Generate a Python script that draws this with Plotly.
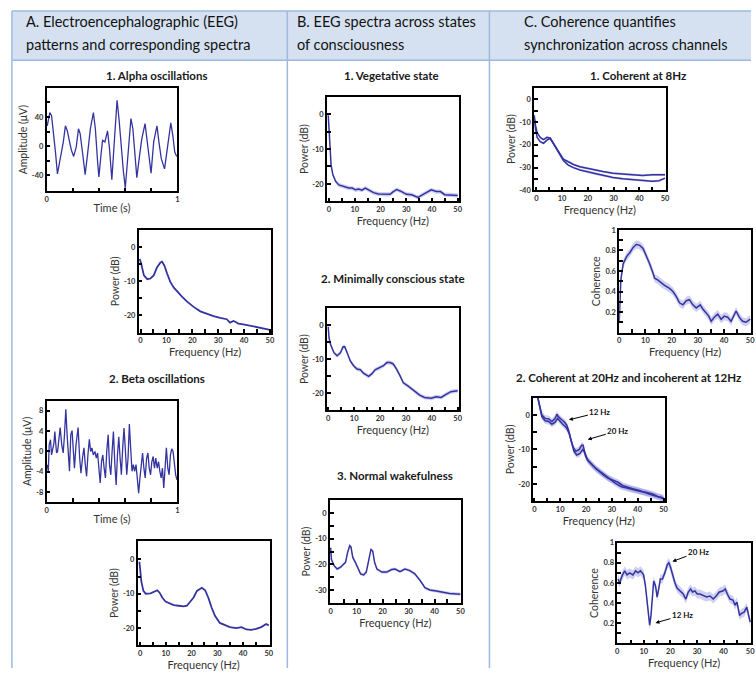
import plotly.graph_objects as go

W, H = 756, 673
LINE = "rgb(52,52,160)"
BAND = "rgba(110,110,210,0.33)"
BORDER = "#9db9e0"
HEADER_BG = "#d5e1f0"
FONT = "Lato, 'Open Sans', sans-serif"

# ---------------- data ----------------
alpha_t = [0.005, 0.025, 0.038, 0.05, 0.068, 0.083, 0.10, 0.113, 0.128, 0.144, 0.159, 0.171, 0.189, 0.207,
           0.227, 0.244, 0.257, 0.277, 0.295, 0.315, 0.335, 0.358, 0.373, 0.39, 0.40, 0.416, 0.428, 0.446,
           0.466, 0.481, 0.499, 0.516, 0.529, 0.539, 0.554, 0.572, 0.587, 0.602, 0.617, 0.632, 0.645, 0.66,
           0.675, 0.69, 0.708, 0.728, 0.753, 0.768, 0.783, 0.799, 0.819, 0.844, 0.859, 0.877, 0.902, 0.919,
           0.932, 0.95, 0.965, 0.98, 0.995]
alpha_uv = [28, 46, 42, 24, -8, -38, -21, -5, 6, 28, 21, 10, -5, -14,
            -1, 24, 17, -12, -39, -8, 24, 46, 24, -21, -42, -12, 8, 6,
            21, -3, -46, 1, 42, 63, 37, -3, -34, -57, -21, 15, 38, 24,
            -12, -43, -17, 10, 31, 10, -17, -37, 6, 28, 6, -17, -31, -8,
            15, 32, 15, -8, -14]

beta_t = [0.005, 0.013, 0.02, 0.03, 0.038, 0.046, 0.056, 0.063, 0.076, 0.084, 0.094, 0.104, 0.116, 0.127,
          0.137, 0.147, 0.157, 0.167, 0.175, 0.185, 0.195, 0.205, 0.213, 0.225, 0.241, 0.253, 0.263, 0.276,
          0.286, 0.296, 0.306, 0.316, 0.327, 0.337, 0.347, 0.357, 0.37, 0.38, 0.39, 0.40, 0.41, 0.42, 0.43,
          0.44, 0.45, 0.46, 0.471, 0.481, 0.491, 0.501, 0.511, 0.522, 0.532, 0.542, 0.552, 0.562, 0.572,
          0.582, 0.592, 0.603, 0.613, 0.623, 0.633, 0.643, 0.653, 0.663, 0.673, 0.684, 0.694, 0.704, 0.714,
          0.724, 0.734, 0.744, 0.754, 0.765, 0.775, 0.785, 0.795, 0.805, 0.815, 0.825, 0.835, 0.846, 0.856,
          0.866, 0.876, 0.886, 0.896, 0.906, 0.916, 0.927, 0.937, 0.947, 0.957, 0.967, 0.977, 0.987, 0.997]
beta_uv = [-2.6, -3.9, 1.3, 2.3, -0.7, 0.7, 1.6, 3.9, -0.3, 0, 2.9, 4.7, 1.3, -0.3,
           3.3, 8.3, 3.3, -1.3, -3.9, 3.3, 4.1, 0, -3.3, 1.3, 4.7, -1.3, -4.3, -1.0,
           0.7, -2.6, -4.9, -0.7, 2.4, 0, 0.7, -0.7, 0, -1.3, -0.3, -3.3, -6.2, -2.0, -0.7,
           -3.3, -5.2, 0, 3.3, -2.6, -4.6, 0, 3.9, -2.6, -6.6, -0.7, 2.9, -1.3, -4.6,
           0.7, 4.6, 0, -4.6, -1.3, 5.4, 0.7, -3.9, -2.6, -3.9, -2.6, -5.9, -8.2, -5.2,
           -3.3, -0.3, -3.3, -5.2, -1.3, -0.3, -3.3, -4.6, -2.0, -1.0, -3.3, -1.3, -3.3, -2.0,
           -3.9, -5.2, -3.3, -7.2, -3.3, 0.7, -3.3, -4.6, -0.7, 0.5, 0, -2.6, -4.6, -5.6]

a1_f = [-0.3, 0.3, 1.3, 2.6, 3.8, 5.1, 6.4, 7.7, 8.3, 9.2, 10.3, 11.5, 12.8, 14.1, 16, 17.9, 20.5, 23.1,
        25.6, 28.2, 30.8, 33.3, 34.6, 35.9, 36.8, 37.8, 39.7, 42.3, 44.9, 47.4, 50]
a1_db = [-3.5, -5, -8.3, -9.4, -9.2, -8.3, -5.9, -4.5, -4.3, -5.4, -7.8, -10.2, -11.8, -13, -14.5, -15.9,
         -17.5, -18.8, -19.5, -20.2, -20.7, -21.1, -22.1, -21.6, -21.9, -22.4, -22.6, -23, -23.4, -24, -24.2]

a2_f = [-0.25, 0, 0.5, 1.3, 2.2, 4.1, 6, 6.7, 7.6, 8.6, 9.9, 11.2, 13.1, 15, 16.9, 18.2, 19.5, 20.8, 22.1,
        24, 25.3, 26.5, 27.8, 29.1, 31, 32.9, 34.9, 37.4, 39.4, 41.3, 43.2, 45.1, 47.1, 49, 50]
a2_db = [-0.7, -3, -6.4, -9.2, -10, -9.9, -9.2, -9, -9.7, -11.1, -12.3, -12.8, -13.3, -13.5, -13.7, -13.5,
         -12.4, -11.1, -9.2, -8.3, -9, -11.1, -14, -16.4, -18.5, -19.2, -19.7, -20, -19.7, -20.4, -20.5,
         -20.2, -19.7, -18.8, -19.2]

b1_f = [-0.3, 0, 0.3, 0.8, 1.5, 2.6, 3.8, 5.8, 7.7, 9, 10.3, 11.5, 12.8, 14.1, 15.4, 17.3, 19.2, 21.8, 23.7,
        25, 26.3, 28.2, 30.1, 32.1, 34.6, 35.9, 37.8, 39.7, 41.7, 43.3, 44.9, 47.4, 50]
b1_db = [-0.3, -4, -9.8, -14.6, -17.4, -19.3, -20.3, -20.8, -21.2, -21.2, -21.7, -21.5, -21.8, -21.2, -21.7,
         -22.5, -22.9, -23, -23, -22.2, -21.6, -22.2, -23, -23.1, -23.9, -23.3, -22.5, -21.7, -22.2, -22.2,
         -23.1, -23.1, -23.3]

b2_f = [0, 0.3, 0.9, 2.2, 3.4, 4.7, 5.7, 6.4, 7.3, 8.5, 9.8, 11.1, 12.4, 13.6, 15.6, 16.8, 18.1, 20, 21.3,
        22.6, 23.9, 25.1, 26.4, 27.7, 29, 30.9, 32.8, 35.3, 37.2, 39.8, 41.7, 43.6, 45.5, 47.4, 50]
b2_db = [-0.5, -3.8, -5.7, -8.1, -9, -8.1, -6.4, -6.4, -8.1, -10.5, -11.9, -12.9, -13.1, -14.1, -15, -14.3,
         -13.1, -12.5, -11.9, -11, -11, -11.4, -12.9, -14.8, -16.9, -17.9, -19, -20.5, -21.2, -21.4, -21,
         -21.2, -20.3, -19.5, -19.2]

b3_f = [0, 0.25, 1.3, 2.5, 3.8, 4.8, 5.7, 6.5, 7.3, 7.8, 8.5, 9.5, 10.4, 11.5, 12.7, 13.7, 14.6, 15.5, 16.2,
        16.9, 17.8, 19.7, 21.6, 23.5, 24.8, 26.7, 28.6, 30.5, 32.4, 34.4, 36.3, 38.2, 40.7, 43.3, 45.8, 50]
b3_db = [-13.5, -18, -20.5, -21.8, -21.1, -19.9, -19.2, -15.4, -12.7, -13.2, -17.3, -19.2, -21.1, -23.7,
         -24.1, -23, -18.6, -14.2, -14.8, -19.2, -21.8, -23, -23, -22, -21.8, -22.8, -21.8, -22.4, -23.7,
         -26.2, -29.1, -30, -30.4, -30.9, -31.3, -31.6]

c1_f_a = [-0.8, -0.4, 0.3, 1.5, 2.8, 4.1, 5.4, 6.7, 8.6, 10.5, 12.4, 14.4, 16.9, 19.5, 22.7, 25.9, 29.7, 33.6,
          37.4, 41.3, 45.1, 50]
c1_db_a = [-7, -11, -14.6, -16.7, -17.7, -16.7, -17.1, -19.6, -23.1, -26.3, -27.4, -28.6, -29.6, -30.3, -31,
           -31.7, -32.4, -32.9, -33.1, -33.4, -33.1, -33.1]
c1_f_b = [-0.6, -0.4, 0.3, 1.5, 2.8, 4.1, 5.4, 6.7, 8.6, 10.5, 12.4, 14.4, 16.9, 19.5, 22.7, 25.9, 29.7, 33.6,
          37.4, 41.3, 45.1, 47.7, 50]
c1_db_b = [-9, -12.4, -16.7, -18.6, -19.3, -17.9, -17.1, -19.6, -23.4, -26.9, -28.9, -30, -31, -31.7, -32.7,
           -33.6, -34.3, -34.9, -35.3, -35.7, -36, -35.7, -34.6]

coh1_f = [0, 0.25, 0.6, 1.5, 2.8, 4.1, 5.3, 6.6, 7.8, 9.1, 10.4, 11.6, 12.9, 13.5, 14.8, 16.1, 17.3, 19.2,
          20.5, 21.8, 23, 24.3, 25.6, 26.8, 28.1, 29.4, 30.9, 31.9, 33.2, 34.2, 35.1, 36.3, 37.6, 38.9,
          40.1, 41.4, 42.7, 43.9, 44.6, 45.8, 47.1, 48.4, 50]
coh1_c = [0.10, 0.35, 0.51, 0.67, 0.74, 0.78, 0.83, 0.86, 0.85, 0.82, 0.75, 0.67, 0.58, 0.53, 0.51, 0.48,
          0.46, 0.43, 0.40, 0.35, 0.29, 0.27, 0.31, 0.32, 0.27, 0.24, 0.27, 0.23, 0.19, 0.16, 0.11, 0.15,
          0.18, 0.13, 0.16, 0.15, 0.11, 0.18, 0.21, 0.15, 0.11, 0.10, 0.13]

c2_f_a = [1.3, 2, 2.9, 4.2, 5.5, 6.8, 8.1, 8.7, 9.3, 10.6, 11.5, 12.5, 13.2, 14.1, 15.1, 16.1, 17.4, 18.3,
          18.9, 19.8, 20.8, 22.8, 24.7, 26.6, 28.5, 30.4, 32.4, 34.3, 36.2, 38.1, 40.7, 43.2, 45.8, 48.3, 50]
c2_db_a = [5.2, 2.9, 0, -1, -1.1, -1.9, -1, 0.2, -0.5, -1.4, -1.9, -2.9, -4.3, -7.1, -9.5, -10.5, -10, -8.8,
           -8.8, -11.9, -13.3, -14.8, -16.2, -17.3, -18.3, -19, -19.5, -20.5, -21, -21.4, -21.9, -22.7,
           -23.3, -23.8, -24.3]
c2_f_b = [1.3, 2, 2.9, 4.2, 5.5, 6.8, 8.1, 9, 9.7, 11, 12.5, 13.6, 14.5, 15.3, 16.4, 17.6, 18.7, 19.6, 20.5,
          22.1, 24, 26, 27.9, 29.8, 31.7, 33.6, 35.5, 38.1, 40.7, 43.2, 45.8, 47.7, 50]
c2_db_b = [5.2, 2.4, -0.5, -1.7, -1.9, -2.7, -2.1, -1, -1.7, -2.7, -3.8, -5.5, -8.1, -10.5, -11.6, -11.2,
           -10, -11, -12.9, -14.3, -15.7, -16.7, -17.9, -18.9, -20, -20.8, -21.1, -21.7, -22.1, -22.4,
           -22.9, -23.6, -24]

coh2_f = [0.25, 0.9, 1.8, 2.8, 3.7, 4.7, 5.9, 6.9, 7.8, 8.7, 9.4, 9.9, 10.6, 11.2, 11.8, 12.2, 12.7, 13.2,
          13.7, 14.4, 15, 15.6, 16.2, 17, 17.9, 18.8, 19.4, 20, 20.8, 21.7, 22.5, 23.8, 24.8, 25.8, 26.7,
          27.6, 28.3, 29.2, 30.1, 31.1, 32.4, 33.6, 34.9, 36.1, 37.2, 38.4, 39.7, 40.6, 41.4, 42.4, 43.5,
          44.3, 45, 46, 46.9, 47.7, 48.7, 49.4, 50]
coh2_c = [0.64, 0.60, 0.67, 0.72, 0.68, 0.70, 0.68, 0.72, 0.70, 0.72, 0.70, 0.68, 0.57, 0.41, 0.25, 0.18,
          0.28, 0.51, 0.62, 0.57, 0.46, 0.54, 0.64, 0.64, 0.70, 0.78, 0.80, 0.76, 0.68, 0.60, 0.55, 0.52,
          0.49, 0.44, 0.51, 0.54, 0.51, 0.52, 0.49, 0.49, 0.47, 0.46, 0.47, 0.44, 0.47, 0.51, 0.52, 0.54,
          0.49, 0.44, 0.43, 0.38, 0.41, 0.28, 0.30, 0.31, 0.36, 0.28, 0.21]

b_band = 0.6      # dB half-width of shaded band (panels B)
c1_band = 0.5     # dB
c2_band = 0.9     # dB
coh1_band = 0.04
coh2_band = 0.045

# tick definitions
t_ticks = [0, 0.2, 0.4, 0.6, 0.8, 1]
t_text = ["0", "", "", "", "", "1"]
f_ticks = [0, 5, 10, 15, 20, 25, 30, 35, 40, 45, 50]
f_text = ["0", "", "10", "", "20", "", "30", "", "40", "", "50"]
a1_ticks = [-40, -20, 0, 20, 40, 60]
a1_text = ["-40", "", "0", "", "40", ""]
b_ticks = [-8, -4, 0, 4, 8]
b_text = ["-8", "-4", "0", "4", "8"]
db25_ticks = [-25, -20, -15, -10, -5, 0]
db25_text = ["", "-20", "", "-10", "", "0"]
db35_ticks = [-35, -30, -25, -20, -15, -10, -5, 0]
db35_text = ["", "-30", "", "-20", "", "-10", "", "0"]
db40_ticks = [-40, -35, -30, -25, -20, -15, -10, -5, 0]
db40_text = ["-40", "", "-30", "", "-20", "", "-10", "", "0"]
coh_ticks = [0.1, 0.2, 0.3, 0.4, 0.5, 0.6, 0.7, 0.8, 0.9, 1.0]
coh_text = ["", "0.2", "", "0.4", "", "0.6", "", "0.8", "", "1"]

# ---------------- figure ----------------
fig = go.Figure()
layout = dict(width=W, height=H, margin=dict(l=0, r=0, t=0, b=0), paper_bgcolor="white",
              plot_bgcolor="white", showlegend=False, font=dict(family=FONT, color="#222"))


def ax_name(n):
    return ("", "") if n == 1 else (str(n), str(n))


def add_axes(n, box, xr, yr, xt, xtt, yt, ytt, xtitle, ytitle, ystand=2):
    l, t, r, b = box
    sx, sy = ax_name(n)
    common = dict(showline=True, mirror=True, linecolor="black", linewidth=1.5, ticks="inside",
                  ticklen=4, tickwidth=1.5, tickcolor="black", showgrid=False, zeroline=False,
                  fixedrange=True,
                  tickfont=dict(size=7.5, family=FONT, color="#333", weight="bold"))
    layout["xaxis" + sx] = dict(common, domain=[l / W, min(r / W, 1)], range=xr, anchor="y" + sy,
                                tickvals=xt, ticktext=xtt,
                                title=dict(text=xtitle, font=dict(size=11, family=FONT, color="#333"),
                                           standoff=1))
    layout["yaxis" + sy] = dict(common, domain=[1 - b / H, 1 - t / H], range=yr, anchor="x" + sx,
                                tickvals=yt, ticktext=ytt,
                                title=dict(text=ytitle, font=dict(size=10.5, family=FONT, color="#333"),
                                           standoff=ystand))
    return "x" + sx, "y" + sy


def line(xa, ya, x, y, width=1.5):
    fig.add_trace(go.Scatter(x=x, y=y, mode="lines", line=dict(color=LINE, width=width),
                             xaxis=xa, yaxis=ya, hoverinfo="skip"))


def band(xa, ya, x, y, hw):
    up = [v + hw for v in y]
    lo = [v - hw for v in y]
    fig.add_trace(go.Scatter(x=list(x) + list(x)[::-1], y=up + lo[::-1], mode="lines", fill="toself",
                             fillcolor=BAND, line=dict(width=0), xaxis=xa, yaxis=ya, hoverinfo="skip"))


# A1 time series
xa, ya = add_axes(1, (45, 85, 177, 190), [0, 1], [-62, 80], t_ticks, t_text, a1_ticks, a1_text,
                  "Time (s)", "Amplitude (μV)")
line(xa, ya, alpha_t, alpha_uv, 1.3)
# A1 spectrum
xa, ya = add_axes(2, (138, 229, 272, 333), [-0.7, 50.6], [-25, 5], f_ticks, f_text, db25_ticks, db25_text,
                  "Frequency (Hz)", "Power (dB)")
line(xa, ya, a1_f, a1_db, 1.8)
# A2 time series
xa, ya = add_axes(3, (45, 402, 177, 505), [0, 1], [-10, 10], t_ticks, t_text, b_ticks, b_text,
                  "Time (s)", "Amplitude (μV)")
line(xa, ya, beta_t, beta_uv, 1.3)
# A2 spectrum
xa, ya = add_axes(4, (137, 544, 270, 650), [-0.9, 50.3], [-25, 5.4], f_ticks, f_text, db25_ticks, db25_text,
                  "Frequency (Hz)", "Power (dB)")
line(xa, ya, a2_f, a2_db, 1.8)
# B1
xa, ya = add_axes(5, (328, 94, 461, 200), [-0.8, 50.4], [-25, 5], f_ticks, f_text, db25_ticks, db25_text,
                  "Frequency (Hz)", "Power (dB)")
band(xa, ya, b1_f, b1_db, b_band)
line(xa, ya, b1_f, b1_db)
# B2
xa, ya = add_axes(6, (328, 308, 461, 412), [-0.5, 50.4], [-25, 5], f_ticks, f_text, db25_ticks, db25_text,
                  "Frequency (Hz)", "Power (dB)")
band(xa, ya, b2_f, b2_db, b_band)
line(xa, ya, b2_f, b2_db)
# B3
xa, ya = add_axes(7, (331, 503, 463, 607), [-0.3, 50.1], [-35, 5], f_ticks, f_text, db35_ticks, db35_text,
                  "Frequency (Hz)", "Power (dB)")
band(xa, ya, b3_f, b3_db, b_band)
line(xa, ya, b3_f, b3_db)
# C1 power
xa, ya = add_axes(8, (537, 85, 670, 189), [-0.9, 50.3], [-40, 5], f_ticks, f_text, db40_ticks, db40_text,
                  "Frequency (Hz)", "Power (dB)")
band(xa, ya, c1_f_a, c1_db_a, c1_band)
band(xa, ya, c1_f_b, c1_db_b, c1_band)
line(xa, ya, c1_f_a, c1_db_a)
line(xa, ya, c1_f_b, c1_db_b)
# C1 coherence
xa, ya = add_axes(9, (623, 229, 756, 333), [0, 50.3], [0, 1], f_ticks, f_text, coh_ticks, coh_text,
                  "Frequency (Hz)", "Coherence", 3)
band(xa, ya, coh1_f, coh1_c, coh1_band)
line(xa, ya, coh1_f, coh1_c)
# C2 power
xa, ya = add_axes(10, (536, 399, 669, 504), [-0.5, 50.5], [-25, 5], f_ticks, f_text, db25_ticks, db25_text,
                  "Frequency (Hz)", "Power (dB)")
band(xa, ya, c2_f_a, c2_db_a, c2_band)
band(xa, ya, c2_f_b, c2_db_b, c2_band)
line(xa, ya, c2_f_a, c2_db_a)
line(xa, ya, c2_f_b, c2_db_b)
# C2 coherence
xa, ya = add_axes(11, (621, 546, 756, 648), [0, 50.3], [0, 1], f_ticks, f_text, coh_ticks, coh_text,
                  "Frequency (Hz)", "Coherence", 3)
band(xa, ya, coh2_f, coh2_c, coh2_band)
line(xa, ya, coh2_f, coh2_c)

# ---------------- table frame ----------------
shapes = [
    dict(type="rect", xref="paper", yref="paper", x0=10 / W, x1=1, y0=1 - 57 / H, y1=1 - 7 / H,
         fillcolor=HEADER_BG, line=dict(width=0), layer="below"),
    dict(type="line", xref="paper", yref="paper", x0=10 / W, x1=1, y0=1 - 7 / H, y1=1 - 7 / H,
         line=dict(color=BORDER, width=1.5)),
    dict(type="line", xref="paper", yref="paper", x0=10 / W, x1=1, y0=1 - 57 / H, y1=1 - 57 / H,
         line=dict(color=BORDER, width=1.5)),
]
for xv in (10, 288, 492):
    shapes.append(dict(type="line", xref="paper", yref="paper", x0=xv / W, x1=xv / W, y0=0, y1=1 - 7 / H,
                       line=dict(color=BORDER, width=1.5)))
layout["shapes"] = shapes

ann = []
headers = [
    (22, "A. Electroencephalographic (EEG)", "patterns and corresponding spectra"),
    (296, "B. EEG spectra across states", "of consciousness"),
    (525, "C. Coherence quantifies", "synchronization across channels"),
]
for xv, l1, l2 in headers:
    for yv, txt in ((18, l1), (41, l2)):
        ann.append(dict(xref="paper", yref="paper", x=xv / W, y=1 - yv / H, xanchor="left", yanchor="middle",
                        text=txt, showarrow=False, font=dict(size=14.5, family=FONT, color="#111")))

titles = [
    (156, 72, "1. Alpha oscillations"),
    (156, 380, "2. Beta oscillations"),
    (393, 72, "1. Vegetative state"),
    (395, 278, "2. Minimally conscious state"),
    (397, 478, "3. Normal wakefulness"),
    (642, 72, "1. Coherent at 8Hz"),
    (632, 379, "2. Coherent at 20Hz and incoherent at 12Hz"),
]
for xv, yv, txt in titles:
    ann.append(dict(xref="paper", yref="paper", x=xv / W, y=1 - yv / H, xanchor="center", yanchor="middle",
                    text="<b>" + txt + "</b>", showarrow=False, font=dict(size=11.5, family=FONT, color="#1a1a1a")))

arrows = [
    ("x10", "y10", 13.0, -1.5, 32, -8, "12 Hz"),
    ("x10", "y10", 20.3, -7.2, 31, -9, "20 Hz"),
    ("x11", "y11", 20.4, 0.81, 27, -10, "20 Hz"),
    ("x11", "y11", 14.0, 0.20, 28, -8, "12 Hz"),
]
for xr_, yr_, xv, yv, dx, dy, txt in arrows:
    ann.append(dict(xref=xr_, yref=yr_, x=xv, y=yv, ax=dx, ay=dy, text="<b>" + txt + "</b>", showarrow=True,
                    arrowhead=2, arrowsize=0.8, arrowwidth=1, arrowcolor="black", standoff=1,
                    font=dict(size=8, family=FONT, color="#111")))
layout["annotations"] = ann

fig.update_layout(**layout)
fig.write_html("out.html", config={"displayModeBar": False},
               post_script="document.body.style.margin='0';document.body.style.overflow='hidden';")
